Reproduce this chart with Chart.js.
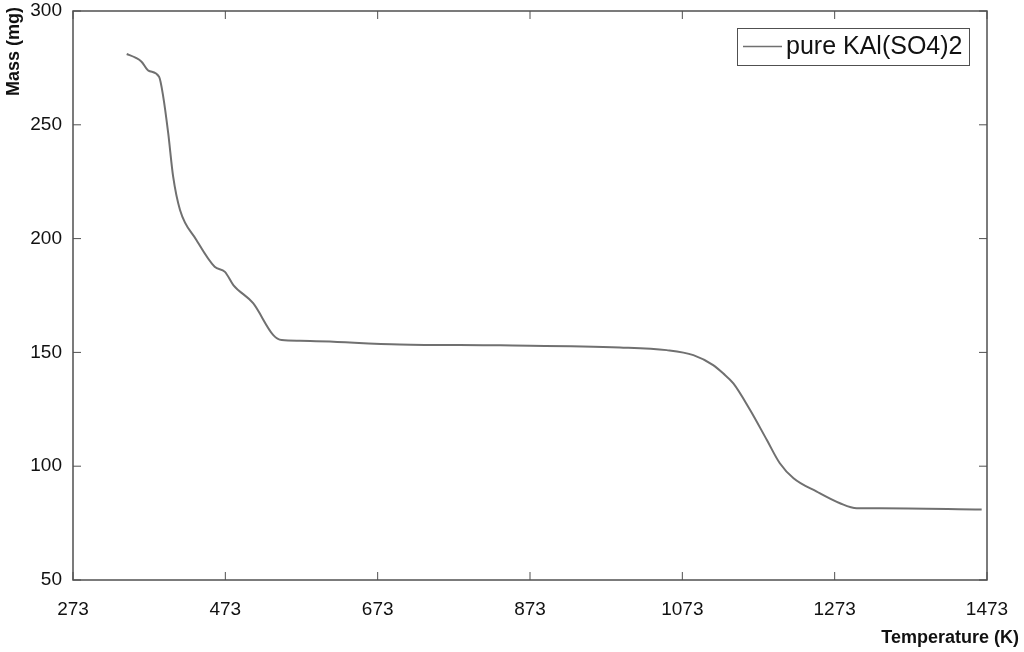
<!DOCTYPE html>
<html>
<head>
<meta charset="utf-8">
<script src="https://cdn.jsdelivr.net/npm/chart.js@4"></script>
<style>
  html, body { margin: 0; padding: 0; background: #fff; }
  #wrap { width: 1024px; height: 652px; }
</style>
</head>
<body>
<div id="wrap"><canvas id="graphic" width="1024" height="652"></canvas></div>
<script>
// values
const temperatura = [343.5, 355, 363, 372, 386, 391.5, 398, 404.5, 413.5, 435, 459, 472.5, 483.5, 509.5, 536, 547, 571, 702, 834, 991, 1052.5, 1087.5, 1113.5, 1126.5, 1140, 1162, 1184, 1201, 1219, 1249.5, 1280, 1302, 1332.5, 1466]
const masa = [281.1, 279.5, 277.7, 273.8, 271.1, 262.3, 246.3, 227.2, 212.6, 199.4, 187.6, 185.4, 179.6, 171.6, 157.6, 155.4, 155.1, 153.5, 153.1, 152.2, 151.0, 148.8, 144.4, 140.8, 136.4, 124.7, 111.5, 101.3, 94.7, 88.8, 83.7, 81.5, 81.5, 81.0]
const xTicks = [273, 473, 673, 873, 1073, 1273, 1473]
const yTicks = [50, 100, 150, 200, 250, 300]
const serieNombre = 'pure KAl(SO4)2'
const tituloX = 'Temperature (K)'
const tituloY = 'Mass (mg)'

const colorLinea = '#707070'
const colorEje = '#505050'
const fuente = '"Liberation Sans", Arial, sans-serif'

const puntos = temperatura.map((t, i) => ({ x: t, y: masa[i] }))

// box, inward ticks, titles and legend
const marco = {
    id: 'marco',
    afterDraw(chart) {
        const ctx = chart.ctx
        const a = chart.chartArea
        const sx = chart.scales.x
        const sy = chart.scales.y
        ctx.save()
        ctx.strokeStyle = colorEje
        ctx.lineWidth = 1.5
        ctx.strokeRect(a.left, a.top, a.right - a.left, a.bottom - a.top)
        ctx.lineWidth = 1
        ctx.beginPath()
        xTicks.forEach((v) => {
            const px = sx.getPixelForValue(v)
            ctx.moveTo(px, a.bottom); ctx.lineTo(px, a.bottom - 8)
            ctx.moveTo(px, a.top); ctx.lineTo(px, a.top + 8)
        })
        yTicks.forEach((v) => {
            const py = sy.getPixelForValue(v)
            ctx.moveTo(a.left, py); ctx.lineTo(a.left + 8, py)
            ctx.moveTo(a.right, py); ctx.lineTo(a.right - 8, py)
        })
        ctx.stroke()

        ctx.fillStyle = '#111'
        ctx.font = 'bold 18px ' + fuente
        ctx.textAlign = 'right'
        ctx.textBaseline = 'middle'
        ctx.fillText(tituloX, 1019, 638)
        ctx.translate(14, 7)
        ctx.rotate(-Math.PI / 2)
        ctx.fillText(tituloY, 0, 0)
        ctx.restore()

        // legend
        ctx.save()
        ctx.fillStyle = '#fff'
        ctx.fillRect(737, 28, 232, 37)
        ctx.strokeStyle = colorEje
        ctx.lineWidth = 1
        ctx.strokeRect(737.5, 28.5, 232, 37)
        ctx.strokeStyle = colorLinea
        ctx.lineWidth = 1.5
        ctx.beginPath()
        ctx.moveTo(743, 46.5); ctx.lineTo(782, 46.5)
        ctx.stroke()
        ctx.fillStyle = '#111'
        ctx.font = '25px ' + fuente
        ctx.textAlign = 'left'
        ctx.textBaseline = 'middle'
        ctx.fillText(serieNombre, 786, 47)
        ctx.restore()
    }
}

const config = {
    type: 'scatter',
    data: {
        datasets: [{
            label: serieNombre,
            data: puntos,
            showLine: true,
            borderColor: colorLinea,
            borderWidth: 2,
            pointRadius: 0,
            cubicInterpolationMode: 'monotone'
        }]
    },
    options: {
        responsive: false,
        animation: false,
        layout: { padding: { top: 11, right: 37, left: 0, bottom: 0 } },
        plugins: { legend: { display: false }, tooltip: { enabled: false } },
        scales: {
            x: {
                type: 'linear',
                min: 273,
                max: 1473,
                afterBuildTicks: (s) => { s.ticks = xTicks.map((v) => ({ value: v })) },
                afterFit: (s) => { s.height = 72; s.paddingLeft = 0; s.paddingRight = 0 },
                grid: { display: false, drawTicks: false },
                border: { display: false },
                ticks: { padding: 18, color: '#111', font: { size: 19, family: fuente }, maxRotation: 0, callback: (v) => String(v) }
            },
            y: {
                type: 'linear',
                min: 50,
                max: 300,
                afterBuildTicks: (s) => { s.ticks = yTicks.map((v) => ({ value: v })) },
                afterFit: (s) => { s.width = 73; s.paddingTop = 0; s.paddingBottom = 0 },
                grid: { display: false, drawTicks: false },
                border: { display: false },
                ticks: { padding: 11, color: '#111', font: { size: 19, family: fuente }, callback: (v) => String(v) }
            }
        }
    },
    plugins: [marco]
}

new Chart(document.getElementById('graphic'), config)
</script>
</body>
</html>
